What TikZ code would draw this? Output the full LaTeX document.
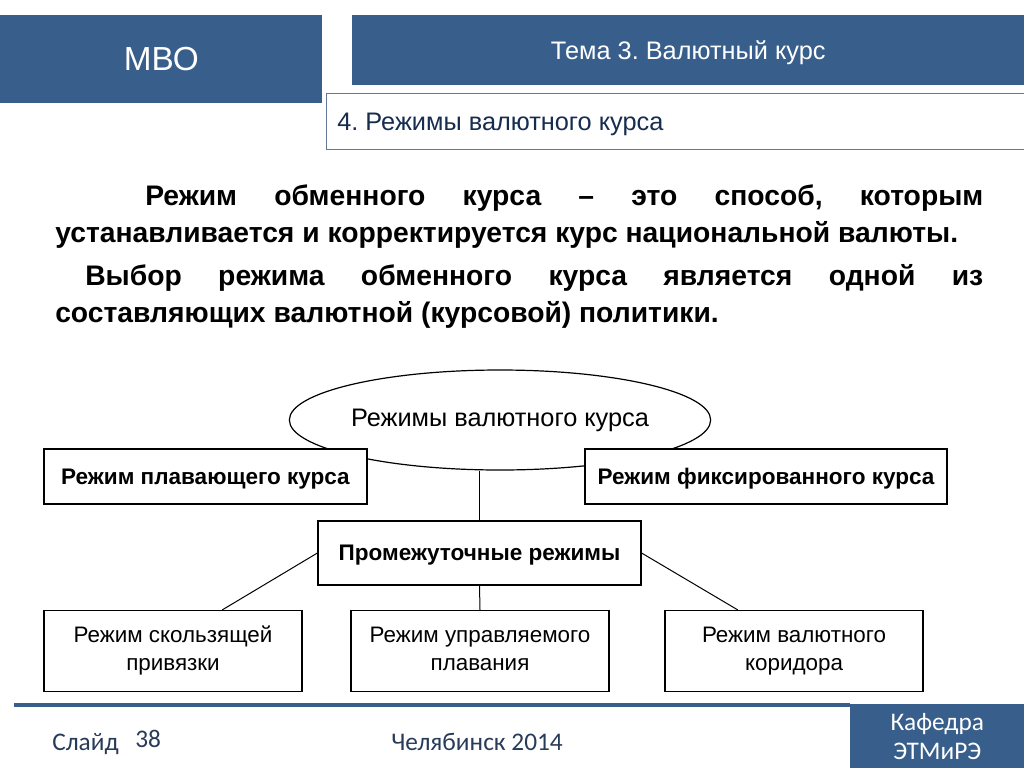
\documentclass[tikz,border=0pt]{standalone}
\usepackage{fontspec}
\setmainfont{Liberation Sans}
\newfontfamily\calib{Carlito}
\usetikzlibrary{shapes.geometric,calc}
\definecolor{hdr}{RGB}{56,94,140}
\definecolor{navy}{RGB}{23,45,80}
\definecolor{foot}{RGB}{40,60,90}
\definecolor{frame}{RGB}{100,120,150}
\frenchspacing
\begin{document}
\begin{tikzpicture}[x=0.75pt,y=-0.75pt,
  box/.style={draw=black,line width=0.9pt,fill=white,inner sep=2pt,align=center},
  conn/.style={draw=black,line width=0.75pt}]
\useasboundingbox[fill=white] (0,0) rectangle (1024,768);
% header
\node[fill=hdr,minimum width=241.5pt,minimum height=66pt,inner sep=0,anchor=north west,
  text=white,text depth=0pt,font=\fontsize{25}{29}\selectfont] (mvo) at (0,15) {МВО};
\node[fill=hdr,minimum width=504pt,minimum height=52.5pt,inner sep=0,anchor=north west,
  text=white,text depth=0pt,font=\fontsize{19}{23}\selectfont] (tema) at (352,15) {Тема 3. Валютный курс};
\node[draw=frame,fill=white,line width=0.8pt,minimum width=525pt,minimum height=42pt,inner sep=0,anchor=north west] (sub) at (326,93) {};
\node[anchor=west,text=navy,font=\fontsize{19}{23}\selectfont,inner sep=0] (subt) at (337,124) {4. Режимы валютного курса};
% body
\node[anchor=north west,inner sep=0,text width=696pt,align=justify,
  font=\bfseries\fontsize{21.2}{27.75}\selectfont] (body) at (55,184)
  {\parskip=4.5pt\hspace*{67.5pt}Режим обменного курса – это способ, которым\linebreak
   устанавливается и корректируется курс национальной валюты.\par
   \hspace*{22.5pt}Выбор режима обменного курса является одной из\linebreak
   составляющих валютной (курсовой) политики.};
% diagram
\node[ellipse,draw=black,line width=0.9pt,fill=white,minimum width=310.5pt,minimum height=75pt,inner sep=0,
  font=\fontsize{19}{23}\selectfont] (ell) at (500,420) {Режимы валютного курса};
\node[box,minimum width=242.25pt,minimum height=41.25pt,text depth=0pt,font=\bfseries\fontsize{16.9}{20}\selectfont] (flt) at (205.5,476.5) {Режим плавающего курса};
\node[box,minimum width=271.5pt,minimum height=41.25pt,text depth=0pt,font=\bfseries\fontsize{16.9}{20}\selectfont] (fix) at (766,476.5) {Режим фиксированного курса};
\node[box,minimum width=242.25pt,minimum height=48pt,text depth=0pt,font=\bfseries\fontsize{16.9}{20}\selectfont] (mid) at (479.5,553) {Промежуточные режимы};
\node[box,minimum width=193.5pt,minimum height=60.75pt,font=\fontsize{16.8}{21}\selectfont] (b1) at (173,651) {\strut Режим скользящей\\\strut привязки};
\node[box,minimum width=193.5pt,minimum height=60.75pt,font=\fontsize{16.8}{21}\selectfont] (b2) at (480,651) {\strut Режим управляемого\\\strut плавания};
\node[box,minimum width=193.5pt,minimum height=60.75pt,font=\fontsize{16.8}{21}\selectfont] (b3) at (794,651) {\strut Режим валютного\\\strut коридора};
\draw[conn] (mid.north) -- (mid.north |- ell.south);
\draw[conn] (mid.west) -- ($(b1.north west)!0.69!(b1.north east)$);
\draw[conn] (mid.south) -- (b2.north);
\draw[conn] (mid.east) -- ($(b3.north west)!0.283!(b3.north east)$);
% footer
\coordinate (la) at (14,705);
\coordinate (lb) at (850,705);
\draw[hdr,line width=3pt] (la) -- (lb);
\node[fill=hdr,minimum width=130.5pt,minimum height=48pt,inner sep=0,anchor=north west,
  text=white,align=center,font=\calib\fontsize{19}{22}\selectfont] (kaf) at (850,704) {Кафедра\\ЭТМиРЭ};
\node[anchor=base west,inner sep=0,text=foot,font=\calib\fontsize{19}{22}\selectfont] (sl) at (52,750) {Слайд};
\node[anchor=base west,inner sep=0,text=foot,font=\calib\fontsize{19}{22}\selectfont] (num) at (135,747) {38};
\node[anchor=base,inner sep=0,text=foot,font=\calib\fontsize{19}{22}\selectfont] (city) at (477,750) {Челябинск 2014};
\end{tikzpicture}
\end{document}
